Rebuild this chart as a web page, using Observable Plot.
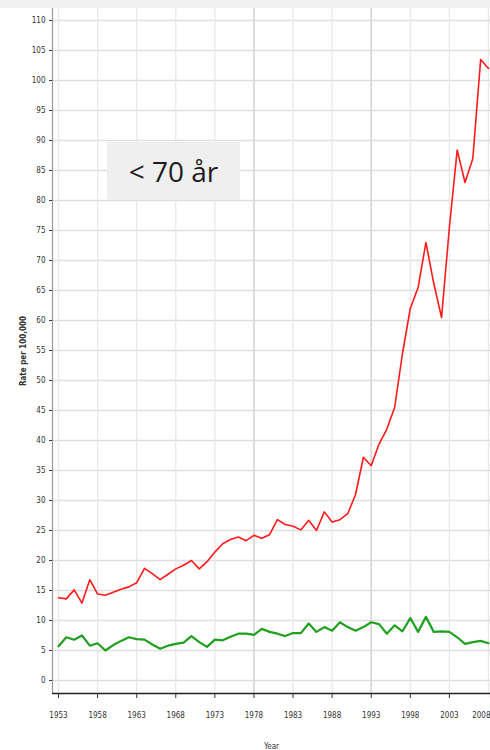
<!DOCTYPE html>
<html>
<head>
<meta charset="utf-8">
<script src="https://cdn.jsdelivr.net/npm/d3@7"></script>
<script src="https://cdn.jsdelivr.net/npm/@observablehq/plot@0.6"></script>
<style>
  html, body { margin: 0; padding: 0; background: #fff; overflow: hidden; width: 490px; height: 750px; }
  #band { height: 8px; background: #f0f0f0; }
  #wrap { position: relative; width: 490px; height: 742px; }
  #tag { position: absolute; left: 107px; top: 134px; width: 133px; height: 58px; background: #efefef;
         font-family: "Open Sans", sans-serif; font-size: 28px; color: #1c1c1c; display: flex;
         align-items: center; justify-content: center; }
</style>
</head>
<body>
<div id="band"></div>
<div id="wrap"><div id="tag">&lt; 70 år</div></div>
<script>
const years = [1953,1954,1955,1956,1957,1958,1959,1960,1961,1962,1963,1964,1965,1966,1967,1968,1969,1970,1971,1972,1973,1974,1975,1976,1977,1978,1979,1980,1981,1982,1983,1984,1985,1986,1987,1988,1989,1990,1991,1992,1993,1994,1995,1996,1997,1998,1999,2000,2001,2002,2003,2004,2005,2006,2007,2008];
const redValues = [13.8,13.6,15.1,12.9,16.8,14.4,14.2,14.7,15.2,15.6,16.3,18.7,17.8,16.8,17.7,18.6,19.2,20.0,18.6,19.8,21.4,22.8,23.5,23.9,23.3,24.2,23.7,24.3,26.8,26.0,25.7,25.1,26.7,25.0,28.1,26.4,26.8,27.8,31.0,37.2,35.8,39.4,41.9,45.5,54.5,62.0,65.5,73.0,66.2,60.5,75.5,88.4,83.0,87.0,103.5,102.0];
const greenValues = [5.7,7.2,6.8,7.5,5.8,6.2,5.0,5.9,6.6,7.2,6.9,6.8,6.0,5.3,5.8,6.1,6.3,7.4,6.4,5.6,6.8,6.7,7.3,7.8,7.8,7.6,8.6,8.1,7.8,7.4,7.9,7.9,9.5,8.1,8.9,8.3,9.7,8.9,8.3,8.9,9.7,9.4,7.8,9.2,8.2,10.4,8.1,10.6,8.1,8.2,8.1,7.2,6.1,6.4,6.6,6.2];
const xTicks = [1953,1958,1963,1968,1973,1978,1983,1988,1993,1998,2003,2008];
const majorYears = [1978,1993];
const yTicks = [0,5,10,15,20,25,30,35,40,45,50,55,60,65,70,75,80,85,90,95,100,105,110];
const xDomain = [1952.23, 2008.26];
const yDomain = [-2.17, 112];

const red = years.map((y, i) => ({year: y, value: redValues[i]}));
const green = years.map((y, i) => ({year: y, value: greenValues[i]}));
const lastTick = xTicks[xTicks.length - 1];

const chart = Plot.plot({
  width: 490,
  height: 742,
  marginLeft: 52,
  marginRight: 0,
  marginTop: 0,
  marginBottom: 57,
  style: {background: "transparent", fontFamily: "DejaVu Sans Condensed, sans-serif", fontSize: "8px", color: "#333"},
  x: {domain: xDomain},
  y: {domain: yDomain},
  marks: [
    Plot.gridY(yTicks, {stroke: "#dedede", strokeOpacity: 1, strokeWidth: 1.6}),
    Plot.gridX(xTicks, {stroke: "#e8e8e8", strokeOpacity: 1, strokeWidth: 1.3}),
    Plot.gridX(majorYears, {stroke: "#d6d6d6", strokeOpacity: 1, strokeWidth: 1.6}),
    Plot.ruleX([xDomain[0]], {stroke: "#9a9a9a", strokeWidth: 1.2}),
    Plot.line(red, {x: "year", y: "value", stroke: "#ff1a1a", strokeWidth: 1.6}),
    Plot.line(green, {x: "year", y: "value", stroke: "#1fa01f", strokeWidth: 2.2}),
    Plot.ruleY([yDomain[0]], {stroke: "#222", strokeWidth: 1.6}),
    Plot.axisY(yTicks, {tickSize: 3, tickPadding: 4, fontSize: 8, label: null}),
    Plot.axisY({ticks: [], tickSize: 0, label: "Rate per 100,000", labelAnchor: "center", labelArrow: "none", labelOffset: 32, fontWeight: "bold", fontSize: 8, dy: -12}),
    Plot.axisX(xTicks.slice(0, -1), {tickSize: 5, tickPadding: 14, fontSize: 8, tickFormat: d => String(d), label: "Year", labelAnchor: "center", labelArrow: "none", labelOffset: 55}),
    Plot.axisX([lastTick], {tickSize: 5, tickPadding: 14, fontSize: 8, tickFormat: d => String(d), textAnchor: "end", dx: 2, label: null})
  ]
});
document.getElementById("wrap").prepend(chart);
</script>
</body>
</html>
